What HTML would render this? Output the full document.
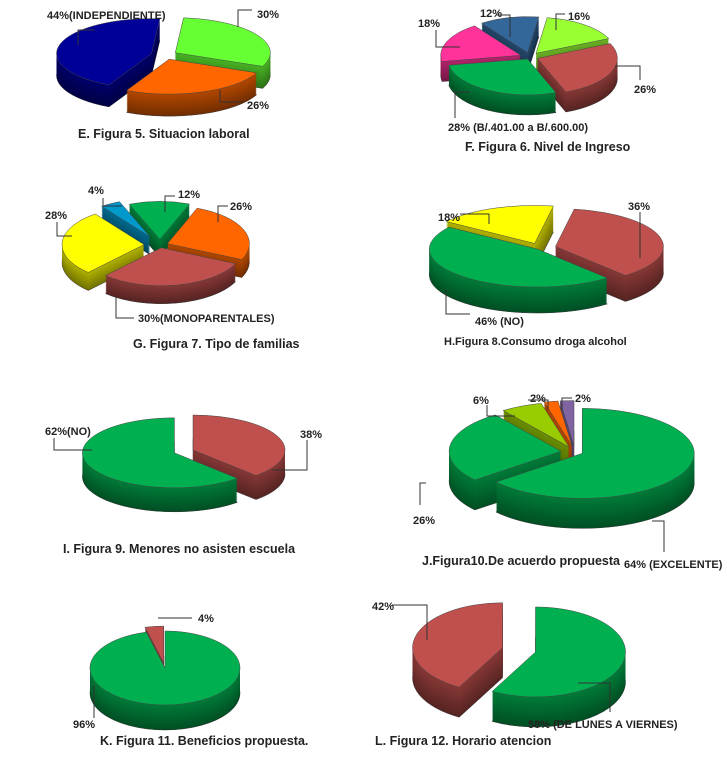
<!DOCTYPE html>
<html><head><meta charset="utf-8"><style>
body{margin:0;background:#fff;}
svg{display:block;}
text{font-family:"Liberation Sans Narrow","Liberation Sans",sans-serif;font-weight:bold;fill:#222;}
.lbl{font-size:11px;}
.ttl{font-size:12.5px;}
</style></head><body>
<svg id="c" width="727" height="766" viewBox="0 0 727 766">
<g id="pies"></g>
<g id="texts">
<text class="lbl" x="47" y="19">44%(INDEPENDIENTE)</text>
<text class="lbl" x="257" y="18">30%</text>
<text class="lbl" x="247" y="109">26%</text>
<text class="ttl" x="78" y="138">E. Figura 5. Situacion laboral</text>
<polyline points="78,45 78,30 95,30" fill="none" stroke="#333"/>
<polyline points="238,27 238,10 252,10" fill="none" stroke="#333"/>
<polyline points="220,90 220,102 243,102" fill="none" stroke="#333"/>

<text class="lbl" x="480" y="17">12%</text>
<text class="lbl" x="568" y="20">16%</text>
<text class="lbl" x="418" y="27">18%</text>
<text class="lbl" x="634" y="93">26%</text>
<text class="lbl" x="448" y="131">28% (B/.401.00 a B/.600.00)</text>
<text class="ttl" x="465" y="151">F. Figura 6. Nivel de Ingreso</text>
<polyline points="496,15 510,15 510,37" fill="none" stroke="#333"/>
<polyline points="556,30 556,14 565,14" fill="none" stroke="#333"/>
<polyline points="436,30 436,47 460,47" fill="none" stroke="#333"/>
<polyline points="615,66 640,66 640,80" fill="none" stroke="#333"/>
<polyline points="470,92 455,92 455,118" fill="none" stroke="#333"/>

<text class="lbl" x="88" y="194">4%</text>
<text class="lbl" x="178" y="198">12%</text>
<text class="lbl" x="230" y="210">26%</text>
<text class="lbl" x="45" y="219">28%</text>
<text class="lbl" x="138" y="322">30%(MONOPARENTALES)</text>
<text class="ttl" x="133" y="348">G. Figura 7. Tipo de familias</text>
<polyline points="103,198 103,206 122,206" fill="none" stroke="#333"/>
<polyline points="165,212 165,196 175,196" fill="none" stroke="#333"/>
<polyline points="218,222 218,206 228,206" fill="none" stroke="#333"/>
<polyline points="57,222 57,236 72,236" fill="none" stroke="#333"/>
<polyline points="116,296 116,318 134,318" fill="none" stroke="#333"/>

<text class="lbl" x="438" y="221">18%</text>
<text class="lbl" x="628" y="210">36%</text>
<text class="lbl" x="475" y="325">46% (NO)</text>
<text class="ttl" x="444" y="345" style="font-size:11px">H.Figura  8.Consumo droga  alcohol</text>
<polyline points="460,214 489,214 489,224" fill="none" stroke="#333"/>
<polyline points="640,212 640,258" fill="none" stroke="#333"/>
<polyline points="446,290 446,314 470,314" fill="none" stroke="#333"/>

<text class="lbl" x="45" y="435">62%(NO)</text>
<text class="lbl" x="300" y="438">38%</text>
<text class="ttl" x="63" y="553">I. Figura 9. Menores no asisten  escuela</text>
<polyline points="54,438 54,450 92,450" fill="none" stroke="#333"/>
<polyline points="307,440 307,470 272,470" fill="none" stroke="#333"/>

<text class="lbl" x="473" y="404">6%</text>
<text class="lbl" x="530" y="402">2%</text>
<text class="lbl" x="575" y="402">2%</text>
<text class="lbl" x="413" y="524">26%</text>
<text class="lbl" x="624" y="568">64% (EXCELENTE)</text>
<text class="ttl" x="422" y="565">J.Figura10.De acuerdo propuesta</text>
<polyline points="487,405 487,416 515,416" fill="none" stroke="#333"/>
<polyline points="528,400 548,400 548,410" fill="none" stroke="#333"/>
<polyline points="572,398 562,398 562,410" fill="none" stroke="#333"/>
<polyline points="426,483 420,483 420,505" fill="none" stroke="#333"/>
<polyline points="652,521 664,521 664,552" fill="none" stroke="#333"/>

<text class="lbl" x="198" y="622">4%</text>
<text class="lbl" x="73" y="728">96%</text>
<text class="ttl" x="100" y="745">K. Figura 11. Beneficios propuesta.</text>
<polyline points="158,618 192,618" fill="none" stroke="#333"/>
<polyline points="94,685 94,718" fill="none" stroke="#333"/>

<text class="lbl" x="372" y="610">42%</text>
<text class="lbl" x="528" y="728">58% (DE LUNES A VIERNES)</text>
<text class="ttl" x="375" y="745">L. Figura 12. Horario atencion</text>
<polyline points="392,605 427,605 427,640" fill="none" stroke="#333"/>
<polyline points="578,683 610,683 610,712" fill="none" stroke="#333"/>
</g>
</svg>
<script>
const eValues=[30,26,44];
const fValues=[16,26,28,18,12];
const gValues=[12,26,30,28,4];
const hValues=[36,46,18];
const iValues=[38,62];
const jValues=[64,26,6,2,2];
const kValues=[96,4];
const lValues=[58,42];

const charts=[
 {id:'e',vals:eValues,cx:165,cy:55,rx:95,ry:35,d:22,start:5,ex:[12,12,14],col:['#66ff33','#ff6600','#000099']},
 {id:'f',vals:fValues,cx:530,cy:57,rx:80,ry:36,d:20,start:8,ex:[10,8,5,10,10],col:['#99ff33','#c0504d','#00b050','#ff3399','#336699']},
 {id:'g',vals:gValues,cx:160,cy:245,rx:82,ry:38,d:18,start:-22,ex:[12,8,6,16,20],col:['#00b050','#ff6600','#c0504d','#ffff00','#0099cc']},
 {id:'h',vals:hValues,cx:540,cy:248,rx:108,ry:38,d:26,start:10,ex:[16,4,14],col:['#c0504d','#00b050','#ffff00']},
 {id:'i',vals:iValues,cx:180,cy:452,rx:92,ry:35,d:24,start:0,ex:[14,6],col:['#c0504d','#00b050']},
 {id:'j',vals:jValues,cx:575,cy:452,rx:112,ry:45,d:30,start:0,ex:[8,14,14,16,16],col:['#00b050','#00b050','#99cc00','#ff6600','#8064a2']},
 {id:'k',vals:kValues,cx:165,cy:668,rx:75,ry:37,d:25,start:0,ex:[0,10],col:['#00b050','#c0504d']},
 {id:'l',vals:lValues,cx:520,cy:650,rx:90,ry:45,d:30,start:0,ex:[16,18],col:['#00b050','#c0504d']}
];

function shade(hex,f){const n=parseInt(hex.slice(1),16);const r=(n>>16)&255,g=(n>>8)&255,b=n&255;
 return 'rgb('+Math.round(r*f)+','+Math.round(g*f)+','+Math.round(b*f)+')';}
const NS='http://www.w3.org/2000/svg';
const root=document.getElementById('pies');
charts.forEach(c=>{
 const grp=document.createElementNS(NS,'g');
 
 
 root.appendChild(grp);
 const total=c.vals.reduce((a,b)=>a+b,0);
 let a=c.start;const sl=[];
 c.vals.forEach((v,i)=>{const a1=a+v/total*360;sl.push({i,a0:a,a1});a=a1;});
 sl.forEach(s=>{const m=(s.a0+s.a1)/2*Math.PI/180;s.m=m;
  s.dx=c.ex[s.i]*Math.sin(m);s.dy=-c.ex[s.i]*Math.cos(m)*c.ry/c.rx;});
 sl.sort((p,q)=>Math.cos(q.m)-Math.cos(p.m));
 function path(s,off){const cx=c.cx+s.dx,cy=c.cy+s.dy+off;
  const r0=s.a0*Math.PI/180,r1=s.a1*Math.PI/180;
  const x0=cx+c.rx*Math.sin(r0),y0=cy-c.ry*Math.cos(r0),x1=cx+c.rx*Math.sin(r1),y1=cy-c.ry*Math.cos(r1);
  const large=(s.a1-s.a0)>180?1:0;
  return 'M'+cx+','+cy+'L'+x0+','+y0+'A'+c.rx+','+c.ry+' 0 '+large+' 1 '+x1+','+y1+'Z';}
 sl.forEach(s=>{
  const sg=document.createElementNS(NS,'g');
  
  
  grp.appendChild(sg);
  for(let d=c.d;d>0;d--){const p=document.createElementNS(NS,'path');
   p.setAttribute('d',path(s,d));p.setAttribute('fill',shade(c.col[s.i],0.45+0.25*(1-d/c.d)));
   if(d===c.d){p.setAttribute('stroke','#333');p.setAttribute('stroke-width','0.5');}
   sg.appendChild(p);}
  const t=document.createElementNS(NS,'path');
  t.setAttribute('d',path(s,0));t.setAttribute('fill',c.col[s.i]);
  t.setAttribute('stroke','#444');t.setAttribute('stroke-width','0.5');
  sg.appendChild(t);
 });
});
</script>
</body></html>
